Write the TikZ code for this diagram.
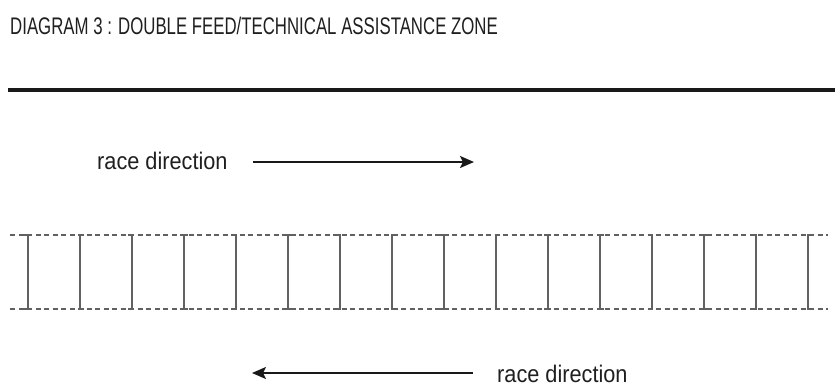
\documentclass[tikz,border=0pt]{standalone}
\usepackage{fontspec}
\setmainfont{Liberation Sans}
\usetikzlibrary{arrows.meta}
\tikzset{
  lbl/.style={font=\fontsize{24}{27}\selectfont, text=black!88, inner sep=0pt},
  ttl/.style={font=\fontsize{24}{27}\selectfont, text=black!88, inner sep=0pt},
  dirarrow/.style={line width=2pt, black!90, -{Stealth[length=14pt,width=12pt,inset=3pt]}},
  kerb/.style={line width=4pt, black!90},
  zoneedge/.style={line width=1.3pt, black!62, dash pattern=on 5pt off 3.5pt},
  bay/.style={line width=1.3pt, black!62},
}
\begin{document}
\begin{tikzpicture}[x=1pt,y=-1pt]
\useasboundingbox (0,0) rectangle (835,386);
% title
\node[ttl, anchor=base west] (title) at (10,34.5) {\scalebox{0.70}[1]{DIAGRAM 3 : DOUBLE FEED/TECHNICAL ASSISTANCE ZONE}};
% thick line
\coordinate (k1) at (8,89.5);
\coordinate (k2) at (835,89.5);
\draw[kerb] (k1) -- (k2);
% top direction
\node[lbl, anchor=base west] (dirA) at (97,169.5) {\scalebox{0.905}[1]{race direction}};
\coordinate (a1) at (253,162);
\coordinate (a2) at (474,162);
\draw[dirarrow] (a1) -- (a2);
% zone dashed edges
\coordinate (z1) at (10,235);
\coordinate (z2) at (828,235);
\coordinate (z3) at (10,309);
\coordinate (z4) at (828,309);
\draw[zoneedge] (z1) -- (z2);
\draw[zoneedge] (z3) -- (z4);
% bays
\foreach \k in {0,...,15}{
  \pgfmathsetmacro{\xx}{28+52*\k}
  \pgfmathsetmacro{\s}{mod(\k,2)==0 ? -4 : 4}
  \draw[bay] (\xx+\s,235) -- (\xx,235) -- (\xx,309) -- (\xx+\s,309);
}
% bottom direction
\coordinate (b1) at (473,373);
\coordinate (b2) at (252,373);
\draw[dirarrow] (b1) -- (b2);
\node[lbl, anchor=base west] (dirB) at (497,382.5) {\scalebox{0.905}[1]{race direction}};
\end{tikzpicture}
\end{document}
